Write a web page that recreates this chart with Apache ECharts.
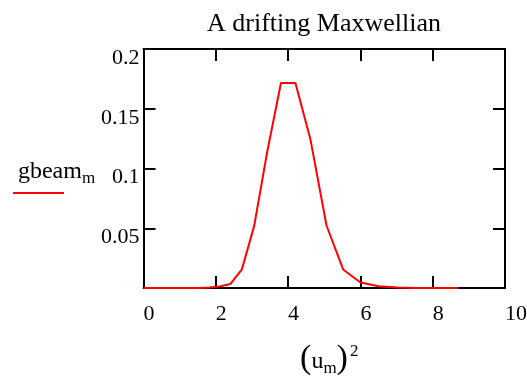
<!DOCTYPE html>
<html>
<head>
<meta charset="utf-8">
<script src="https://cdn.jsdelivr.net/npm/echarts@6/dist/echarts.min.js"></script>
<style>
html,body{margin:0;padding:0;background:#fff;}
#c{width:527px;height:381px;}
</style>
</head>
<body>
<div id="c"></div>
<script>
// (u_m)^2 values (x axis)
var uSquared = [0.0025, 0.0225, 0.0625, 0.1225, 0.2025, 0.3025, 0.4225, 0.5625, 0.7225, 0.9025,
                1.1025, 1.3225, 1.5625, 1.8225, 2.1025, 2.4025, 2.7225, 3.0625, 3.4225, 3.8025,
                4.2025, 4.6225, 5.0625, 5.5225, 6.0025, 6.5025, 7.0225, 7.5625, 8.1225, 8.7025];
// gbeam_m values
var gbeam = [0, 0, 0, 0, 0, 0, 0, 0, 0, 0,
             0, 0, 0, 0.0004, 0.0012, 0.0033, 0.0156, 0.052, 0.114, 0.1715,
             0.1715, 0.1238, 0.0523, 0.0155, 0.0046, 0.0014, 0.0004, 0.0001, 0, 0];
var xTicks = [0, 2, 4, 6, 8, 10];
var yTicks = [0.05, 0.1, 0.15, 0.2];

var FONT = 'Liberation Serif';
var pts = uSquared.map(function (x, i) { return [x, gbeam[i]]; });

var chart = echarts.init(document.getElementById('c'), null, {renderer: 'canvas'});
var axisLineStyle = {color: '#000', width: 2};
var tickStyle = {color: '#000', width: 2};
chart.setOption({
  animation: false,
  backgroundColor: '#fff',
  title: {
    text: 'A drifting Maxwellian',
    left: 319, top: 6, textAlign: 'center',
    textStyle: {fontFamily: FONT, fontSize: 26, fontWeight: 'normal', color: '#000'}
  },
  grid: {left: 143.5, right: 22, top: 49, bottom: 93, containLabel: false, outerBoundsMode: 'none'},
  xAxis: [{
    type: 'value', min: xTicks[0], max: xTicks[xTicks.length - 1], interval: 2,
    position: 'bottom',
    axisLine: {show: true, onZero: false, lineStyle: axisLineStyle},
    axisTick: {show: true, inside: true, length: 12, lineStyle: tickStyle},
    splitLine: {show: false},
    axisLabel: {fontFamily: FONT, fontSize: 22, color: '#000', align: 'left', margin: 15},
    name: '{p|(}{u|u}{s|m}{p|)}{sup|2}',
    nameLocation: 'middle', nameGap: 54,
    nameTextStyle: {
      padding: [0, 0, 0, 10],
      rich: {
        p: {fontFamily: FONT, fontSize: 34, color: '#000'},
        u: {fontFamily: FONT, fontSize: 24, color: '#000', padding: [4, 0, 0, 0]},
        s: {fontFamily: FONT, fontSize: 17, color: '#000', padding: [18, 0, 0, 0]},
        sup: {fontFamily: FONT, fontSize: 17, color: '#000', padding: [0, 0, 16, 2]}
      }
    }
  }, {
    type: 'value', min: xTicks[0], max: xTicks[xTicks.length - 1], interval: 2,
    position: 'top',
    axisLine: {show: true, onZero: false, lineStyle: axisLineStyle},
    axisTick: {show: true, inside: true, length: 12, lineStyle: tickStyle},
    splitLine: {show: false},
    axisLabel: {show: false}
  }],
  yAxis: [{
    type: 'value', min: 0, max: yTicks[yTicks.length - 1], interval: 0.05,
    position: 'left',
    axisLine: {show: true, onZero: false, lineStyle: axisLineStyle},
    axisTick: {show: true, inside: true, length: 12, lineStyle: tickStyle},
    splitLine: {show: false},
    axisLabel: {fontFamily: FONT, fontSize: 22, color: '#000', margin: 4, showMinLabel: false,
                verticalAlign: 'top', lineHeight: 18},
    name: '{g|gbeam}{s|m}',
    nameLocation: 'middle', nameRotate: 0, nameGap: 46,
    nameTextStyle: {
      align: 'right',
      padding: [6, 0, 0, 0],
      rich: {
        g: {fontFamily: FONT, fontSize: 24, color: '#000'},
        s: {fontFamily: FONT, fontSize: 17, color: '#000', padding: [14, 0, 0, 0]}
      }
    }
  }, {
    type: 'value', min: 0, max: yTicks[yTicks.length - 1], interval: 0.05,
    position: 'right',
    axisLine: {show: true, onZero: false, lineStyle: axisLineStyle},
    axisTick: {show: true, inside: true, length: 12, lineStyle: tickStyle},
    splitLine: {show: false},
    axisLabel: {show: false}
  }],
  graphic: [{
    type: 'line', z: 10,
    shape: {x1: 13, y1: 193, x2: 64, y2: 193},
    style: {stroke: '#ff0000', lineWidth: 2}
  }],
  series: [{
    type: 'line', name: 'gbeam', xAxisIndex: 0, yAxisIndex: 0,
    data: pts, showSymbol: false, smooth: false, z: 5,
    lineStyle: {color: '#ff0000', width: 2},
    itemStyle: {color: '#ff0000'}
  }]
});
</script>
</body>
</html>
